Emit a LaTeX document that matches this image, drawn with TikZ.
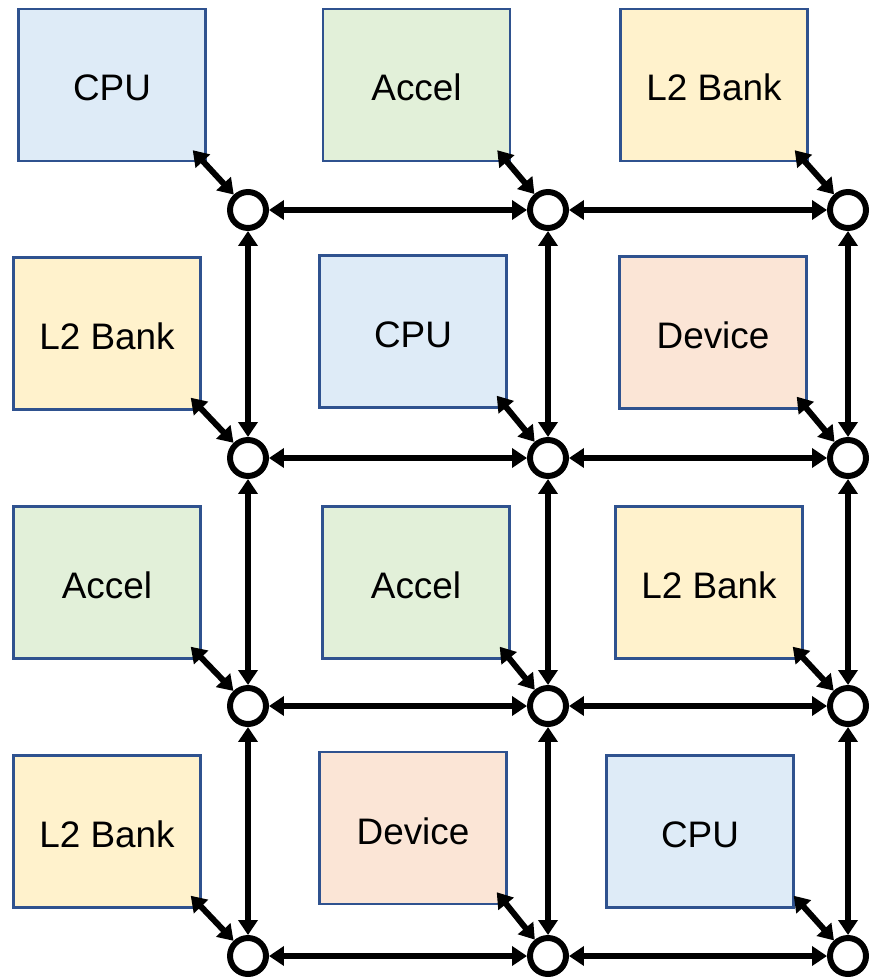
\documentclass[tikz,border=0pt]{standalone}
\usepackage{fontspec}
\setmainfont{Liberation Sans}
\usetikzlibrary{arrows.meta}

\definecolor{cpufill}{HTML}{DEEBF7}
\definecolor{accelfill}{HTML}{E2F0D9}
\definecolor{bankfill}{HTML}{FFF2CC}
\definecolor{devfill}{HTML}{FBE5D6}
\definecolor{tileedge}{HTML}{2F528F}

\begin{document}
\begin{tikzpicture}[x=0.02cm, y=-0.02cm,
    tile/.style={draw=tileedge, line width=1.4pt, minimum width=3.74cm, minimum height=3.04cm, inner sep=0pt, text height=0.64cm, text depth=0pt, font=\fontsize{21}{25}\selectfont},
    cpu/.style={tile, fill=cpufill},
    accel/.style={tile, fill=accelfill},
    bank/.style={tile, fill=bankfill},
    dev/.style={tile, fill=devfill},
    router/.style={circle, draw=black, fill=white, line width=3.4pt, minimum size=0.72cm, inner sep=0pt},
    link/.style={black, line width=3.4pt, {Triangle[length=0.3cm,width=0.38cm]}-{Triangle[length=0.3cm,width=0.38cm]}}]

        \useasboundingbox (0,0) rectangle (871,979);

        % tiles
        \node[cpu]   (t11) at (112, 85)    {CPU};
        \node[accel] (t12) at (416.5, 85)  {Accel};
        \node[bank]  (t13) at (714, 85)    {L2 Bank};

        \node[bank]  (t21) at (107, 333.5) {L2 Bank};
        \node[cpu]   (t22) at (413, 331.5) {CPU};
        \node[dev]   (t23) at (713, 332.5) {Device};

        \node[accel] (t31) at (107, 582.5) {Accel};
        \node[accel] (t32) at (416, 582.5) {Accel};
        \node[bank]  (t33) at (709, 582.5) {L2 Bank};

        \node[bank]  (t41) at (107, 831.5) {L2 Bank};
        \node[dev]   (t42) at (413, 828)   {Device};
        \node[cpu]   (t43) at (700, 831.5) {CPU};

        % routers
        \node[router] (r11) at (248, 210) {};
        \node[router] (r12) at (548, 210) {};
        \node[router] (r13) at (848, 210) {};

        \node[router] (r21) at (248, 458) {};
        \node[router] (r22) at (548, 458) {};
        \node[router] (r23) at (848, 458) {};

        \node[router] (r31) at (248, 706) {};
        \node[router] (r32) at (548, 706) {};
        \node[router] (r33) at (848, 706) {};

        \node[router] (r41) at (248, 956) {};
        \node[router] (r42) at (548, 956) {};
        \node[router] (r43) at (848, 956) {};

        % row links
        \draw[link] (r11) -- (r12);
        \draw[link] (r12) -- (r13);
        \draw[link] (r21) -- (r22);
        \draw[link] (r22) -- (r23);
        \draw[link] (r31) -- (r32);
        \draw[link] (r32) -- (r33);
        \draw[link] (r41) -- (r42);
        \draw[link] (r42) -- (r43);

        % column links
        \draw[link] (r11) -- (r21);
        \draw[link] (r21) -- (r31);
        \draw[link] (r31) -- (r41);
        \draw[link] (r12) -- (r22);
        \draw[link] (r22) -- (r32);
        \draw[link] (r32) -- (r42);
        \draw[link] (r13) -- (r23);
        \draw[link] (r23) -- (r33);
        \draw[link] (r33) -- (r43);

        % tile to router
        \draw[link] ([shift={(-14,-12)}]t11.south east) -- (r11);
        \draw[link] ([shift={(-14,-12)}]t12.south east) -- (r12);
        \draw[link] ([shift={(-14,-12)}]t13.south east) -- (r13);
        \draw[link] ([shift={(-11,-13)}]t21.south east) -- (r21);
        \draw[link] ([shift={(-11,-13)}]t22.south east) -- (r22);
        \draw[link] ([shift={(-11,-13)}]t23.south east) -- (r23);
        \draw[link] ([shift={(-11,-13)}]t31.south east) -- (r31);
        \draw[link] ([shift={(-11,-13)}]t32.south east) -- (r32);
        \draw[link] ([shift={(-11,-13)}]t33.south east) -- (r33);
        \draw[link] ([shift={(-11,-13)}]t41.south east) -- (r41);
        \draw[link] ([shift={(-11,-13)}]t42.south east) -- (r42);
        \draw[link] ([shift={(-1,-13)}]t43.south east) -- (r43);

    \end{tikzpicture}
\end{document}
